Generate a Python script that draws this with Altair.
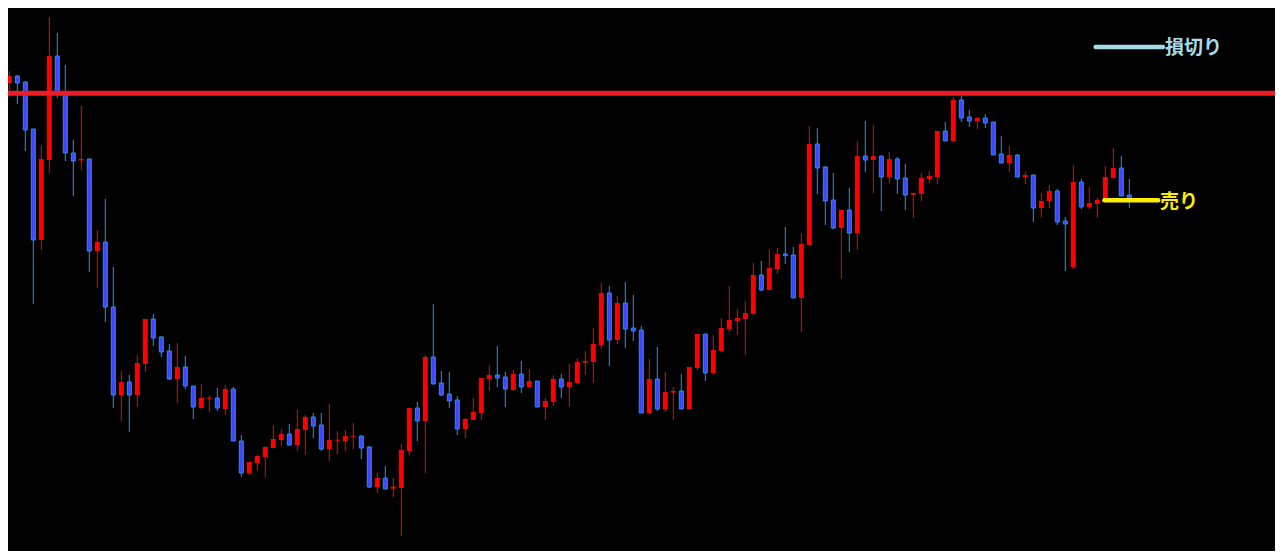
import altair as alt
import pandas as pd

# candle data (price level units; larger = lower on chart)
opens = [121, 83, 76, 82, 129, 240, 160, 56, 93, 153, 160.5, 159, 251, 242, 307, 395, 382, 395, 364, 319,
         337, 351, 379, 367, 386, 408, 398.7, 398, 409, 389, 441, 473, 463, 457, 448, 440, 434, 445, 430, 417,
         425, 449, 440.7, 441, 436.7, 436, 447, 487, 478, 488.7, 488, 451, 408, 421, 357, 383, 394, 400, 429, 420,
         413, 379, 375, 377, 390, 374, 387, 381, 407, 402, 379, 387, 383, 362.7, 362, 345, 293, 340, 303, 328,
         330, 413, 379, 409, 392.7, 391, 409, 368, 334, 373, 351, 329, 321, 319, 314, 275, 290, 269, 254, 255,
         298, 245, 144, 167, 200, 228, 210, 233, 156, 160, 156, 177, 159, 178, 194.7, 194, 179, 177, 131, 141,
         100, 117, 121, 118, 122, 154, 163, 155, 177, 175, 208, 201, 191, 221, 267, 182, 207, 204, 200, 178,
         168, 195]
closes = [83, 76, 83, 130, 240, 159, 56, 92, 153, 161, 159, 251, 242, 307, 395, 382, 395, 363, 319, 338,
          352, 379, 367, 386, 407, 398, 397.7, 408, 389, 441, 473, 462, 456, 447, 439, 434, 445, 429, 417, 426,
          449, 440, 439.7, 436, 435.7, 448, 487, 478, 489, 486.7, 450, 408, 421, 357, 384, 395, 401, 429, 419, 412,
          378, 375, 378, 389, 374, 387, 381, 407, 401, 379, 387, 382, 362, 361, 344, 293, 340, 303, 329, 331,
          413, 379, 409, 392, 391, 409, 367, 334, 373, 350, 328, 320, 318, 313, 275, 290, 268, 254, 255.7, 298,
          244, 144, 168, 201, 228, 210, 233, 156, 160, 156, 177, 159, 179, 195, 193, 178, 176, 131, 141, 100,
          118, 121, 118, 123, 155, 163, 155, 177, 175, 208, 201, 191, 222, 224, 182, 207, 203, 200, 177, 168,
          196, 198]
highs = [81, 71, 75, 81, 129, 146, 17, 33, 65, 140, 106, 159, 230, 199, 267, 371, 375, 355, 319, 314,
         336, 344, 343, 356, 386, 384, 396, 388, 385, 387, 435, 462, 455, 446, 425, 429, 424, 410, 415, 413,
         413, 404, 431, 430, 423, 435, 446, 473, 466, 478, 444, 408, 402, 355, 304, 371, 372, 396, 418, 398,
         378, 365, 346, 372, 370, 361, 369, 381, 398, 375, 374, 364, 358, 351, 328, 283, 286, 296, 282, 295,
         326, 359, 347, 372, 387, 374, 367, 334, 334, 335, 318, 286, 309, 301, 263, 261, 249, 248, 227, 247,
         233, 126, 128, 166, 173, 210, 188, 141, 121, 125, 156, 152, 157, 164, 193, 173, 171, 131, 122, 97,
         96, 110, 117, 114, 122, 136, 146, 154, 172, 175, 193, 185, 189, 217, 165, 179, 187, 198, 166, 148,
         156, 179]
lows = [127, 97, 104, 151, 304, 250, 173, 98, 161, 196, 170, 272, 288, 322, 408, 421, 432, 407, 372, 346,
        357, 380, 403, 389, 419, 409, 412, 411, 415, 441, 477, 475, 471, 477, 448, 446, 446, 451, 455, 438,
        451, 461, 454, 451, 449, 459, 488, 493, 489, 497, 536, 455, 441, 473, 384, 396, 408, 435, 438, 420,
        420, 390, 387, 407, 391, 393, 387, 407, 420, 406, 398, 407, 383, 375, 383, 349, 366, 344, 348, 341,
        413, 414, 411, 412, 420, 409, 409, 370, 381, 374, 352, 332, 335, 355, 315, 291, 290, 274, 264, 298,
        332, 245, 194, 225, 229, 279, 252, 250, 172, 193, 211, 183, 194, 210, 218, 201, 183, 184, 141, 141,
        122, 127, 129, 128, 155, 163, 172, 177, 184, 222, 217, 208, 225, 271, 269, 209, 209, 218, 200, 179,
        196, 208]

resistance_level = 93.3
stop_level = 47
stop_x = [136.8, 145.2]
sell_level = 200.3
sell_x = [137.9, 144.6]
stop_label = "損切り"
sell_label = "売り"

UP, DOWN_FILL, DOWN_LINE = "#FF0000", "#4046FF", "#1E90FF"
STOP_C, SELL_C, RES_C = "#A6DCE8", "#FFEE00", "#ED1C24"

n = len(opens)
df = pd.DataFrame({
    "i": list(range(n)),
    "open": opens, "close": closes, "high": highs, "low": lows,
})
df["dir"] = ["up" if c < o else "down" for o, c in zip(opens, closes)]

# plot area sits inside the page's 8px margin
M = 8
W, H = 1267, 543
xs = alt.Scale(domain=[(M - 1.3) / 8, (M + W - 1.3) / 8], nice=False, zero=False, padding=0)
ys = alt.Scale(domain=[M, M + H], reverse=True, nice=False, zero=False, padding=0)

X = alt.X("i:Q", scale=xs, axis=None)
base = alt.Chart(df)
up = base.transform_filter("datum.dir == 'up'")
dn = base.transform_filter("datum.dir == 'down'")

up_wicks = up.mark_rule(strokeWidth=1, color=UP).encode(
    x=X, y=alt.Y("high:Q", scale=ys, axis=None), y2="low:Q")
dn_wicks = dn.mark_rule(strokeWidth=1, color=DOWN_LINE).encode(
    x=X, y=alt.Y("high:Q", scale=ys, axis=None), y2="low:Q")
up_bodies = up.mark_bar(size=5, color=UP).encode(
    x=X, y=alt.Y("open:Q", scale=ys, axis=None), y2="close:Q")
dn_bodies = dn.mark_bar(size=4, fill=DOWN_FILL, stroke=DOWN_LINE, strokeWidth=1).encode(
    x=X, y=alt.Y("open:Q", scale=ys, axis=None), y2="close:Q")

res = alt.Chart(pd.DataFrame({"y": [resistance_level]})).mark_rule(
    color=RES_C, strokeWidth=5).encode(
    y=alt.Y("y:Q", scale=ys, axis=None), x=alt.value(0), x2=alt.value(W))


def segment(x, level, col, label, dy):
    d = pd.DataFrame({"x": [x[0]], "x2": [x[1]], "y": [level], "ly": [level + dy], "t": [label]})
    c = alt.Chart(d)
    line = c.mark_rule(strokeWidth=4.5, strokeCap="round", color=col).encode(
        x=alt.X("x:Q", scale=xs, axis=None), x2="x2:Q", y=alt.Y("y:Q", scale=ys, axis=None))
    txt = c.mark_text(align="left", baseline="middle", fontSize=19, fontWeight="bold",
                      font="Noto Sans CJK JP", dx=2, color=col).encode(
        x=alt.X("x2:Q", scale=xs, axis=None), y=alt.Y("ly:Q", scale=ys, axis=None), text="t:N")
    return line + txt


stop = segment(stop_x, stop_level, STOP_C, stop_label, 1)
sell = segment(sell_x, sell_level, SELL_C, sell_label, 1.5)

chart = alt.layer(up_wicks, dn_wicks, up_bodies, dn_bodies, res, stop, sell).properties(
    width=W, height=H, background="#000000", padding=0,
    autosize=alt.AutoSizeParams(type="none"),
).configure_view(strokeWidth=0, fill="#000000")

chart.save("out.html", embed_options={"renderer": "svg", "actions": False})
